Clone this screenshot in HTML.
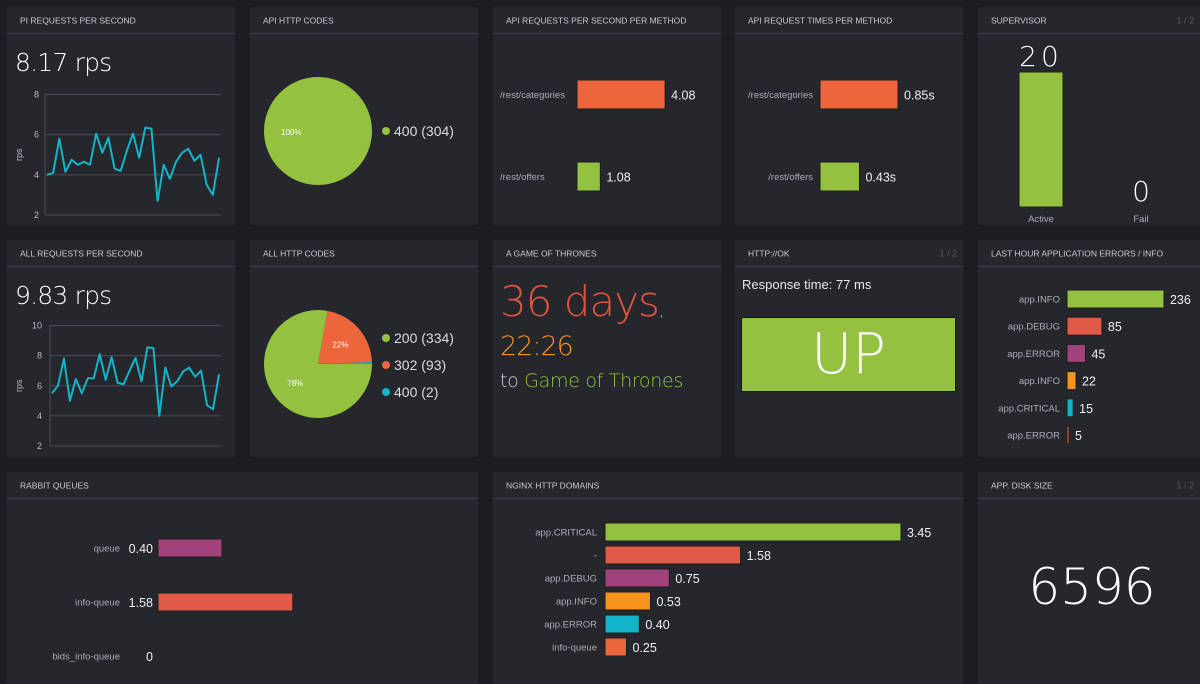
<!DOCTYPE html>
<html><head><meta charset="utf-8"><style>
html,body{margin:0;padding:0;background:#1c1d20;width:1200px;height:684px;overflow:hidden}
svg{display:block}
text{font-family:"Liberation Sans",sans-serif}
.t{font-size:8.5px;fill:#c9ccd2}
.pg{font-size:9px;fill:#55585e}
.lbl{font-size:9.5px;fill:#a9adb3}
.val{font-size:12.5px;fill:#eef0f2}
.big{font-family:"DejaVu Sans",sans-serif;font-weight:200;fill:#fff}
</style></head><body>
<svg id="s" width="1200" height="684" viewBox="0 0 1200 684">
<g id="panels"></g>
<g id="content"></g>
</svg>
<script>
// ---------- data ----------
const rps1Values=[4.0,4.1,5.8,4.15,4.75,4.5,4.65,4.5,6.05,5.1,5.85,4.3,4.2,5.2,6.05,4.85,6.35,6.3,2.7,4.5,3.8,4.65,5.1,5.3,4.7,5.0,3.5,3.0,4.85];
const rps1Ticks=[2,4,6,8];
const rps2Values=[5.5,6.0,7.8,5.0,6.45,5.5,6.5,6.5,8.1,6.4,7.9,6.2,6.1,7.0,7.85,6.3,8.55,8.5,4.0,7.2,5.95,6.3,6.95,7.2,6.6,7.0,4.7,4.45,6.75];
const rps2Ticks=[2,4,6,8,10];
const apiCodes=["400"];
const apiCodeCounts=[304];
const allCodes=["200","302","400"];
const allCodeCounts=[334,93,2];
const methodNames=["/rest/categories","/rest/offers"];
const methodRps=[4.08,1.08];
const methodTimes=[0.85,0.43];
const supNames=["Active","Fail"];
const supValues=[20,0];
const errNames=["app.INFO","app.DEBUG","app.ERROR","app.INFO","app.CRITICAL","app.ERROR"];
const errValues=[236,85,45,22,15,5];
const queueNames=["queue","info-queue","bids_info-queue"];
const queueValues=[0.40,1.58,0];
const domainNames=["app.CRITICAL","-","app.DEBUG","app.INFO","app.ERROR","info-queue"];
const domainValues=[3.45,1.58,0.75,0.53,0.40,0.25];

const NS="http://www.w3.org/2000/svg";
const P=document.getElementById('panels'),C=document.getElementById('content');
function el(tag,attrs,parent,txt){const e=document.createElementNS(NS,tag);for(const k in attrs)e.setAttribute(k,attrs[k]);if(txt!==undefined)e.textContent=txt;(parent||C).appendChild(e);return e;}
const GREEN="#94c13f",RED="#e05a47",ORANGE="#ec653b",PURPLE="#a0437a",YEL="#f7941d",TEAL="#14b4c8";
const barCols=[GREEN,RED,PURPLE,YEL,TEAL,ORANGE];

// ---------- panels ----------
const panels=[
 [7,7,228,218,"PI REQUESTS PER SECOND","",'panel-pi-rps'],
 [250,7,228,218,"API HTTP CODES","",'panel-api-codes'],
 [493,7,228,218,"API REQUESTS PER SECOND PER METHOD","",'panel-api-rps-method'],
 [735,7,228,218,"API REQUEST TIMES PER METHOD","",'panel-api-times'],
 [978,7,222,218,"SUPERVISOR","1 / 2",'panel-supervisor'],
 [7,240,228,217,"ALL REQUESTS PER SECOND","",'panel-all-rps'],
 [250,240,228,217,"ALL HTTP CODES","",'panel-all-codes'],
 [493,240,228,217,"A GAME OF THRONES","",'panel-got'],
 [735,240,228,217,"HTTP://OK","1 / 2",'panel-http-ok'],
 [978,240,222,217,"LAST HOUR APPLICATION ERRORS / INFO","",'panel-errors'],
 [7,472,471,212,"RABBIT QUEUES","",'panel-rabbit'],
 [493,472,470,212,"NGINX HTTP DOMAINS","",'panel-nginx'],
 [978,472,222,212,"APP. DISK SIZE","1 / 2",'panel-disk']];
panels.forEach(p=>{
 const g=el('g',{},P);
 
 
 el('rect',{x:p[0],y:p[1],width:p[2],height:p[3],fill:'#25272c'},g);
 el('line',{x1:p[0],x2:p[0]+p[2],y1:p[1]+26.5,y2:p[1]+26.5,stroke:'#3c3f45','stroke-width':1},g);
 const t=el('text',{x:p[0]+13,y:p[1]+16.5,class:'t'},g,p[4]);
 
 
 if(p[5]){const q=el('text',{x:p[0]+p[2]-6,y:p[1]+16.5,class:'pg','text-anchor':'end'},g,p[5]);
  
  }
});

// ---------- line charts ----------
function lineChart(vals,ticks,x0,x1,yTop,yBot,tx,bigText,bigY,name){
 const mn=ticks[0],mx=ticks[ticks.length-1];
 const ys=v=>yBot-(v-mn)/(mx-mn)*(yBot-yTop);
 const xs=i=>x0+2+i*(x1-x0-4)/(vals.length-1);
 const g=el('g',{});
 
 
 const b=el('text',{x:15,y:bigY,class:'big','font-size':25,'letter-spacing':-0.8},g,bigText);
 
 
 ticks.forEach(t=>{
  el('line',{x1:x0,x2:x1,y1:ys(t),y2:ys(t),stroke:'#4a4d53','stroke-width':1},g);
  const l=el('text',{x:tx,y:ys(t)+3,'font-size':9,fill:'#b8bcc2','text-anchor':'end'},g,t);
  
  
 });
 el('line',{x1:x0,x2:x0,y1:yTop,y2:yBot,stroke:'#4a4d53'},g);
 const yt=el('text',{x:0,y:0,'font-size':9,fill:'#b8bcc2',transform:`translate(22,${(yTop+yBot)/2}) rotate(-90)`,'text-anchor':'middle'},g,'rps');
 
 
 const pl=el('polyline',{points:vals.map((v,i)=>xs(i)+','+ys(v)).join(' '),fill:'none',stroke:'#14b4c8','stroke-width':2,'stroke-linejoin':'round'},g);
 
 
}
lineChart(rps1Values,rps1Ticks,45,221,94.5,215,39,"8.17 rps",71,'pi-rps-chart');
lineChart(rps2Values,rps2Ticks,50,221,325.5,446,42,"9.83 rps",304,'all-rps-chart');

// ---------- pies ----------
function pie(names,counts,cx,cy,r,startDeg,legY,name){
 const cols=[GREEN,ORANGE,TEAL];
 const g=el('g',{});
 
 
 const tot=counts.reduce((a,b)=>a+b,0);
 if(counts.length===1){
  const c=el('circle',{cx,cy,r,fill:cols[0]},g);
  
  
  el('text',{x:cx-37,y:cy+4,'font-size':8,fill:'#fff'},g,'100%');
 } else {
  let a=startDeg;
  const order=[1,2,0];
  order.forEach(i=>{
   const sweep=counts[i]/tot*360, a2=a+sweep;
   const p=d=>[cx+r*Math.sin(d*Math.PI/180),cy-r*Math.cos(d*Math.PI/180)];
   const [x1,y1]=p(a),[x2,y2]=p(a2);
   const s=el('path',{d:`M${cx},${cy}L${x1},${y1}A${r},${r} 0 ${sweep>180?1:0} 1 ${x2},${y2}Z`,fill:cols[i]},g);
   
   
   const pct=Math.round(counts[i]/tot*100);
   if(pct>=5){const m=(a+a2)/2,[lx,ly]=[cx+r*0.55*Math.sin(m*Math.PI/180),cy-r*0.55*Math.cos(m*Math.PI/180)];
    el('text',{x:lx,y:ly+3,'font-size':8,fill:'#fff','text-anchor':'middle'},g,pct+'%');}
   a=a2;
  });
 }
 names.forEach((n,i)=>{
  const lg=el('g',{},g);
  
  
  el('circle',{cx:386,cy:legY+i*27,r:4,fill:cols[i]},lg);
  el('text',{x:394,y:legY+i*27+5,'font-size':14,fill:'#d8dbe0'},lg,`${n} (${counts[i]})`);
 });
}
pie(apiCodes,apiCodeCounts,318,131,54,0,131,'api-codes-pie');
pie(allCodes,allCodeCounts,318,364,54,10,338,'all-codes-pie');

// ---------- horizontal bars ----------
function hbars(names,vals,scale,x0,labelX,rowY,h,cols,fmt,name,valBefore,lblAnchor){
 const g=el('g',{});
 
 
 names.forEach((n,i)=>{
  const y=rowY(i),w=scale(vals[i]);
  const l=el('text',{x:labelX,y:y+h/2+3.5,class:'lbl','text-anchor':lblAnchor||'end'},g,n);
  
  
  if(w>0){const r=el('rect',{x:x0,y,width:w,height:h,fill:cols[i%cols.length],stroke:'#1c1d20','stroke-width':1},g);
   
   }
  const vx=valBefore?valBefore(i):x0+w+6;
  const v=el('text',{x:vx,y:y+h/2+5,class:'val','text-anchor':valBefore?'end':'start'},g,fmt(vals[i]));
  
  
 });
}
hbars(methodNames,methodRps,v=>v*21.6,577,500,i=>80+i*82,29,[ORANGE,GREEN],v=>v.toFixed(2),'api-rps-bars',null,'start');
hbars(methodNames,methodTimes,v=>v*91.8,820,813,i=>80+i*82,29,[ORANGE,GREEN],v=>v.toFixed(2)+'s','api-times-bars');
hbars(errNames,errValues,v=>v*0.411,1067,1060,i=>290+i*27.2,18,barCols,v=>String(v),'errors-bars');
hbars(queueNames,queueValues,v=>v>0?40+v*60:0,158,120,i=>539+i*54,18,[PURPLE,RED,ORANGE],v=>v===0?'0':v.toFixed(2),'rabbit-bars',i=>153);
hbars(domainNames,domainValues,v=>v*85.8,605,597,i=>523+i*23,18,barCols,v=>v.toFixed(2),'nginx-bars');

// ---------- supervisor ----------
(function(){
 const g=el('g',{});
 
 
 const base=207,sc=v=>v*6.75,cx=[1041,1141];
 supNames.forEach((n,i)=>{
  const h=sc(supValues[i]);
  if(h>0){const r=el('rect',{x:cx[i]-22,y:base-h,width:44,height:h,fill:GREEN,stroke:'#1c1d20'},g);
   
   }
  const v=el('text',{x:cx[i],y:base-h-6,class:'big','font-size':28,'text-anchor':'middle','letter-spacing':supValues[i]>9?4:0},g,String(supValues[i]));
  
  
  const l=el('text',{x:cx[i],y:222,class:'lbl','text-anchor':'middle'},g,n);
  
  
 });
})();
</script>
<div style="position:absolute;left:0;top:0;width:1200px;height:684px;pointer-events:none">
<div style="position:absolute;left:500px;top:280px;font:200 42px 'DejaVu Sans',sans-serif;color:#e0533f;line-height:44px;white-space:nowrap;letter-spacing:-1px">36 days<span style="font-size:16px;color:#ccc">,</span></div>
<div style="position:absolute;left:500px;top:332px;font:300 27px 'DejaVu Sans',sans-serif;color:#f7941d;line-height:30px;letter-spacing:-1px">22:26</div>
<div style="position:absolute;left:500px;top:368px;font:200 19px 'DejaVu Sans',sans-serif;color:#8dc63f;line-height:26px;white-space:nowrap;letter-spacing:-0.3px"><span style="color:#c9ccd2">to</span> Game of Thrones</div>
<div style="position:absolute;left:742px;top:277px;font:13px 'Liberation Sans',sans-serif;color:#e6e8eb">Response time: 77 ms</div>
<div style="position:absolute;left:741px;top:317px;width:213px;height:73px;background:#94c13f;border:1px solid #15161a;color:#fff;font:200 56px 'DejaVu Sans',sans-serif;text-align:center;line-height:73px">UP</div>
<div style="position:absolute;left:978px;top:554px;width:228px;color:#fff;font:200 50px 'DejaVu Sans',sans-serif;text-align:center;line-height:66px;letter-spacing:0px">6596</div>
</div>
</body></html>
